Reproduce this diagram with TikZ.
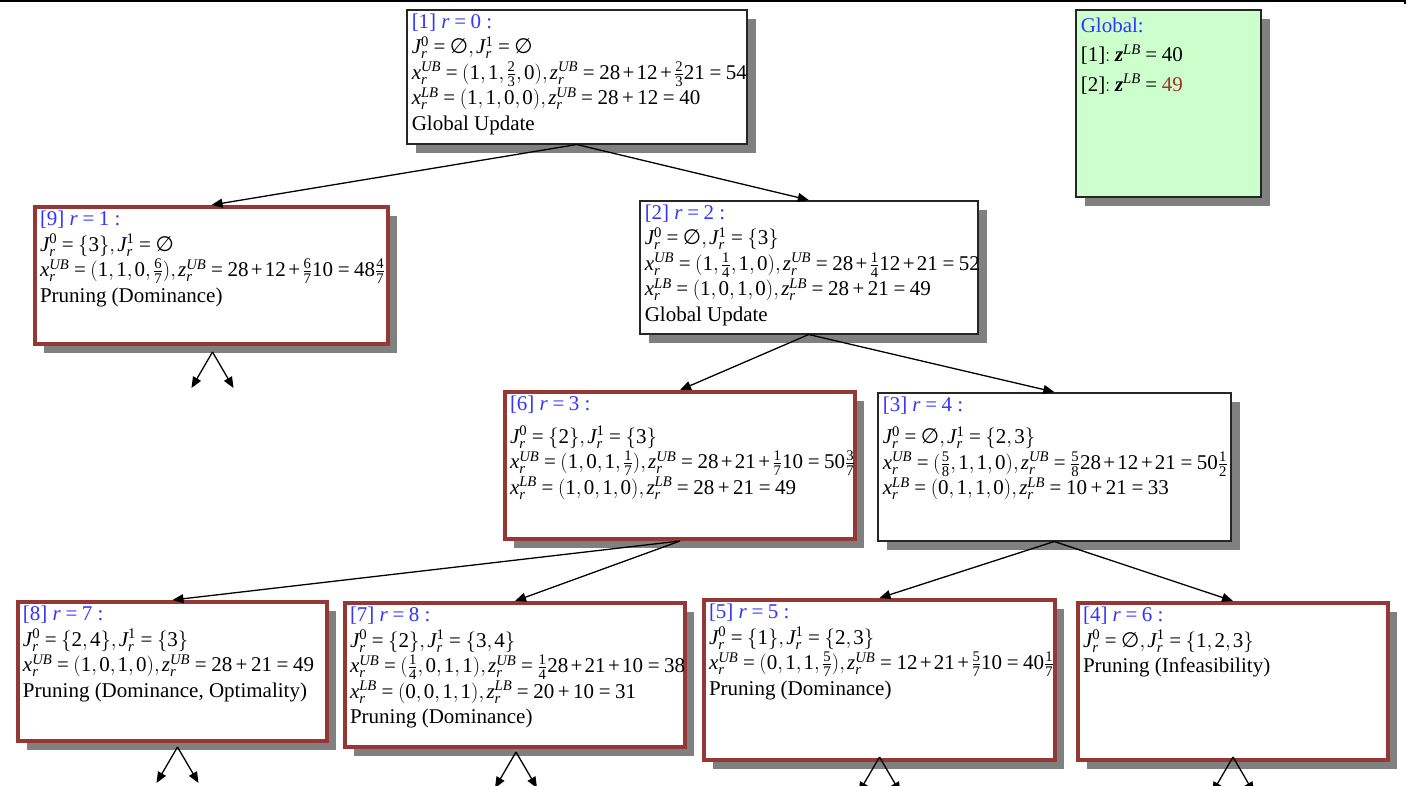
\documentclass[tikz,border=0pt]{standalone}
\usepackage{amsmath}
\usepackage{mathspec}
\setmainfont{Liberation Serif}
\setmathsfont(Digits,Latin)[Numbers=Lining]{Liberation Serif}
\newfontfamily\djv{DejaVu Sans}
\DeclareSymbolFont{lsr}{TU}{\rmdefault}{m}{n}
\DeclareMathSymbol{=}{\mathrel}{lsr}{"3D}
\DeclareMathSymbol{+}{\mathbin}{lsr}{"2B}
\usetikzlibrary{arrows.meta,shadows,calc}
\definecolor{hdr}{HTML}{3333FF}
\definecolor{prune}{HTML}{953735}
\definecolor{gfill}{HTML}{CCFFCC}
\definecolor{shad}{HTML}{808080}
\definecolor{dred}{HTML}{A0302A}
\newcommand\Jr[1]{J_{r}^{#1}}
\newcommand\xr[1]{x_{r}^{#1}}
\newcommand\zr[1]{z_{r}^{#1}}
\newcommand\es{\text{\djv ∅}}
\newcommand\bz{\mbox{\bfseries\itshape z}}
\newcommand\hd[2]{{\color{hdr}[#1]~$r=#2$~:}}
\newcommand\bt[3]{\parbox[c][\dimexpr#2pt-8pt\relax][t]{\dimexpr#1pt-10pt\relax}{\raggedright\relpenalty=10000 \binoppenalty=10000 \lineskip=1pt
  \thickmuskip=4mu plus 2mu \medmuskip=3mu plus 1mu minus 1mu \thinmuskip=2mu #3}}
\begin{document}
\begin{tikzpicture}[x=1pt,y=-1pt,
  every node/.style={font=\fontsize{21}{25.5}\selectfont, inner xsep=5pt, inner ysep=4pt, anchor=north west},
  plainbox/.style={draw=black!85, line width=1.5pt, fill=white, drop shadow={shadow xshift=9pt,shadow yshift=-9pt,fill=shad,opacity=1}},
  prunebox/.style={plainbox, draw=prune, line width=4pt},
  globalbox/.style={plainbox, fill=gfill},
  conn/.style={line width=1.3pt, -{Triangle[length=11pt,width=9pt]}},
  topline/.style={line width=2pt}
]
\useasboundingbox (0,0) rectangle (1409,785);
\coordinate (tl) at (0,1);
\coordinate (tr) at (1405,1);
\coordinate (tt) at (1405,4);
\draw[topline] (tl) -- (tr) -- (tt);

\node[plainbox] (n1) at (406,9) {\bt{340}{134}{\hd{1}{0}\\
$\Jr{0}=\es,\Jr{1}=\es$\\
$\xr{UB}=(1,1,\frac{2}{3},0),\zr{UB}=28+12+\frac{2}{3}21=54$\\
$\xr{LB}=(1,1,0,0),\zr{UB}=28+12=40$\\
Global Update}};

\node[globalbox] (g) at (1075,9) {\bt{185}{187}{\vspace*{4pt}{\color{hdr}Global:}\\[4pt]
{[1]}$:\bz^{LB}=40$\\[4pt]
{[2]}$:\bz^{LB}={\color{dred}49}$}};

\node[prunebox] (n9) at (33,205) {\bt{353}{137}{\hd{9}{1}\\
$\Jr{0}=\{3\},\Jr{1}=\es$\\
$\xr{UB}=(1,1,0,\frac{6}{7}),\zr{UB}=28+12+\frac{6}{7}10=48\frac{4}{7}$\\
Pruning (Dominance)}};

\node[plainbox] (n2) at (639,200) {\bt{338}{133}{\hd{2}{2}\\
$\Jr{0}=\es,\Jr{1}=\{3\}$\\
$\xr{UB}=(1,\frac{1}{4},1,0),\zr{UB}=28+\frac{1}{4}12+21=52$\\
$\xr{LB}=(1,0,1,0),\zr{LB}=28+21=49$\\
Global Update}};

\node[prunebox] (n6) at (503,390) {\bt{350}{147}{\hd{6}{3}\\[7pt]
$\Jr{0}=\{2\},\Jr{1}=\{3\}$\\
$\xr{UB}=(1,0,1,\frac{1}{7}),\zr{UB}=28+21+\frac{1}{7}10=50\frac{3}{7}$\\
$\xr{LB}=(1,0,1,0),\zr{LB}=28+21=49$}};

\node[plainbox] (n3) at (877,392) {\bt{353}{148}{\hd{3}{4}\\[7pt]
$\Jr{0}=\es,\Jr{1}=\{2,3\}$\\
$\xr{UB}=(\frac{5}{8},1,1,0),\zr{UB}=\frac{5}{8}28+12+21=50\frac{1}{2}$\\
$\xr{LB}=(0,1,1,0),\zr{LB}=10+21=33$}};

\node[prunebox] (n8) at (16,600) {\bt{309}{139}{\hd{8}{7}\\
$\Jr{0}=\{2,4\},\Jr{1}=\{3\}$\\
$\xr{UB}=(1,0,1,0),\zr{UB}=28+21=49$\\
Pruning (Dominance, Optimality)}};

\node[prunebox] (n7) at (343,601) {\bt{340}{144}{\hd{7}{8}\\
$\Jr{0}=\{2\},\Jr{1}=\{3,4\}$\\
$\xr{UB}=(\frac{1}{4},0,1,1),\zr{UB}=\frac{1}{4}28+21+10=38$\\
$\xr{LB}=(0,0,1,1),\zr{LB}=20+10=31$\\
Pruning (Dominance)}};

\node[prunebox] (n5) at (702,598) {\bt{351}{160}{\hd{5}{5}\\
$\Jr{0}=\{1\},\Jr{1}=\{2,3\}$\\
$\xr{UB}=(0,1,1,\frac{5}{7}),\zr{UB}=12+21+\frac{5}{7}10=40\frac{1}{7}$\\
Pruning (Dominance)}};

\node[prunebox] (n4) at (1076,601) {\bt{310}{157}{\hd{4}{6}\\
$\Jr{0}=\es,\Jr{1}=\{1,2,3\}$\\
Pruning (Infeasibility)}};

\draw[conn] (n1.south) -- (n9.north);
\draw[conn] (n1.south) -- (n2.north);
\draw[conn] (n2.south) -- (n6.north);
\draw[conn] (n2.south) -- (n3.north);
\draw[conn] (n6.south) -- (n8.north);
\draw[conn] (n6.south) -- (n7.north);
\draw[conn] (n3.south) -- (n5.north);
\draw[conn] (n3.south) -- (n4.north);

\coordinate (s9) at ($(n9.south)+(1,6)$);
\coordinate (s8) at ($(n8.south)+(5,4)$);
\coordinate (s7) at ($(n7.south)+(1,3)$);
\coordinate (s5) at ($(n5.south)+(0,-5)$);
\coordinate (s4) at ($(n4.south)+(0,-5)$);
\foreach \s in {s9,s8,s7,s5,s4}{
  \coordinate (\s l) at ($(\s)+(-21,36)$);
  \coordinate (\s r) at ($(\s)+(21,36)$);
  \draw[conn] (\s) -- (\s l);
  \draw[conn] (\s) -- (\s r);
}
\end{tikzpicture}
\end{document}
